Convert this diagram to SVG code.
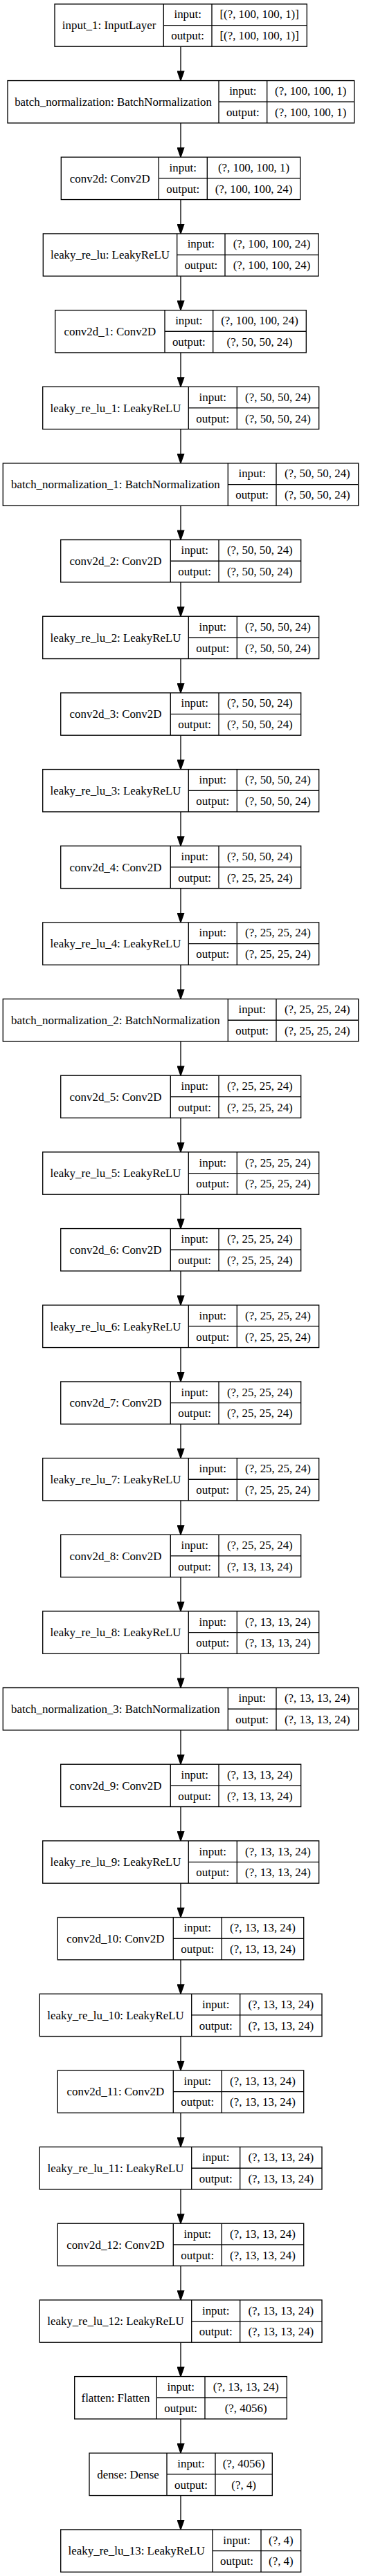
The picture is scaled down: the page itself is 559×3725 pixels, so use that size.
<svg xmlns="http://www.w3.org/2000/svg" xmlns:xlink="http://www.w3.org/1999/xlink" width="559" height="3725" viewBox="0 0 559 3725">
<style>
.f rect{fill:#fff;stroke:#000;stroke-width:1.33}
.f path{fill:none;stroke:#000;stroke-width:1.33}
text{font-family:"Liberation Serif","Times New Roman",serif;font-size:16.9px;text-anchor:middle;fill:#000}
.e path{fill:none;stroke:#000;stroke-width:1.33;marker-end:url(#ah)}
</style>
<defs>
<marker id="ah" markerUnits="userSpaceOnUse" markerWidth="16" markerHeight="12" refX="13.33" refY="5.67" orient="auto" viewBox="-1 -1 16 12"><path d="M0,1 L13.33,5.67 L0,10.33 Z" fill="#000" stroke="#000" stroke-width="1.33"/></marker>
<g id="fA" class="f"><rect x="79" y="0" width="364.3" height="61.33"/><path d="M236.3 0V61.33M306 0V61.33M236.3 30.67H443.3"/></g>
<g id="fB" class="f"><rect x="11" y="0" width="500.7" height="61.33"/><path d="M316 0V61.33M385.7 0V61.33M316 30.67H511.7"/></g>
<g id="fC" class="f"><rect x="88.3" y="0" width="345.4" height="61.33"/><path d="M229.3 0V61.33M299.3 0V61.33M229.3 30.67H433.7"/></g>
<g id="fD" class="f"><rect x="62.3" y="0" width="397.7" height="61.33"/><path d="M255.7 0V61.33M325 0V61.33M255.7 30.67H460"/></g>
<g id="fE" class="f"><rect x="79.7" y="0" width="362.6" height="61.33"/><path d="M238 0V61.33M307.7 0V61.33M238 30.67H442.3"/></g>
<g id="fF" class="f"><rect x="61.7" y="0" width="399" height="61.33"/><path d="M272.3 0V61.33M342.3 0V61.33M272.3 30.67H460.7"/></g>
<g id="fG" class="f"><rect x="4.3" y="0" width="513.4" height="61.33"/><path d="M329.3 0V61.33M399 0V61.33M329.3 30.67H517.7"/></g>
<g id="fH" class="f"><rect x="87.7" y="0" width="347" height="61.33"/><path d="M246.3 0V61.33M316 0V61.33M246.3 30.67H434.7"/></g>
<g id="fI" class="f"><rect x="83.3" y="0" width="355.4" height="61.33"/><path d="M250.3 0V61.33M320.3 0V61.33M250.3 30.67H438.7"/></g>
<g id="fJ" class="f"><rect x="57.3" y="0" width="407.7" height="61.33"/><path d="M276.7 0V61.33M346.7 0V61.33M276.7 30.67H465"/></g>
<g id="fK" class="f"><rect x="107.7" y="0" width="306.6" height="61.33"/><path d="M226.3 0V61.33M296 0V61.33M226.3 30.67H414.3"/></g>
<g id="fL" class="f"><rect x="129" y="0" width="264.3" height="61.33"/><path d="M241 0V61.33M311 0V61.33M241 30.67H393.3"/></g>
<g id="fM" class="f"><rect x="87.7" y="0" width="347" height="61.33"/><path d="M307 0V61.33M377 0V61.33M307 30.67H434.7"/></g>
</defs>
<rect x="0" y="0" width="559" height="3725" fill="#fff"/>

<g id="edges" class="e">
<path d="M261 67.23V116.57"/>
<path d="M261 177.9V227.23"/>
<path d="M261 288.56V337.9"/>
<path d="M261 399.23V448.57"/>
<path d="M261 509.9V559.24"/>
<path d="M261 620.57V669.9"/>
<path d="M261 731.23V780.57"/>
<path d="M261 841.9V891.24"/>
<path d="M261 952.57V1001.9"/>
<path d="M261 1063.23V1112.57"/>
<path d="M261 1173.9V1223.24"/>
<path d="M261 1284.57V1333.9"/>
<path d="M261 1395.23V1444.57"/>
<path d="M261 1505.9V1555.24"/>
<path d="M261 1616.57V1665.91"/>
<path d="M261 1727.24V1776.57"/>
<path d="M261 1837.9V1887.24"/>
<path d="M261 1948.57V1997.91"/>
<path d="M261 2059.24V2108.57"/>
<path d="M261 2169.9V2219.24"/>
<path d="M261 2280.57V2329.91"/>
<path d="M261 2391.24V2440.57"/>
<path d="M261 2501.9V2551.24"/>
<path d="M261 2612.57V2661.91"/>
<path d="M261 2723.24V2772.58"/>
<path d="M261 2833.91V2883.24"/>
<path d="M261 2944.57V2993.91"/>
<path d="M261 3055.24V3104.58"/>
<path d="M261 3165.91V3215.24"/>
<path d="M261 3276.57V3325.91"/>
<path d="M261 3387.24V3436.58"/>
<path d="M261 3497.91V3547.24"/>
<path d="M261 3608.57V3657.91"/>
</g>

<g id="input_1" transform="translate(0,5.9)"><use xlink:href="#fA"/><text x="157.65" y="36.5">input_1: InputLayer</text><text x="271.15" y="20.6">input:</text><text x="271.15" y="51.3">output:</text><text x="374.65" y="20.6">[(?, 100, 100, 1)]</text><text x="374.65" y="51.3">[(?, 100, 100, 1)]</text></g>
<g id="batch_normalization" transform="translate(0,116.57)"><use xlink:href="#fB"/><text x="163.5" y="36.5">batch_normalization: BatchNormalization</text><text x="350.85" y="20.6">input:</text><text x="350.85" y="51.3">output:</text><text x="448.7" y="20.6">(?, 100, 100, 1)</text><text x="448.7" y="51.3">(?, 100, 100, 1)</text></g>
<g id="conv2d" transform="translate(0,227.23)"><use xlink:href="#fC"/><text x="158.8" y="36.5">conv2d: Conv2D</text><text x="264.3" y="20.6">input:</text><text x="264.3" y="51.3">output:</text><text x="366.5" y="20.6">(?, 100, 100, 1)</text><text x="366.5" y="51.3">(?, 100, 100, 24)</text></g>
<g id="leaky_re_lu" transform="translate(0,337.9)"><use xlink:href="#fD"/><text x="159" y="36.5">leaky_re_lu: LeakyReLU</text><text x="290.35" y="20.6">input:</text><text x="290.35" y="51.3">output:</text><text x="392.5" y="20.6">(?, 100, 100, 24)</text><text x="392.5" y="51.3">(?, 100, 100, 24)</text></g>
<g id="conv2d_1" transform="translate(0,448.57)"><use xlink:href="#fE"/><text x="158.85" y="36.5">conv2d_1: Conv2D</text><text x="272.85" y="20.6">input:</text><text x="272.85" y="51.3">output:</text><text x="375" y="20.6">(?, 100, 100, 24)</text><text x="375" y="51.3">(?, 50, 50, 24)</text></g>
<g id="leaky_re_lu_1" transform="translate(0,559.24)"><use xlink:href="#fF"/><text x="167" y="36.5">leaky_re_lu_1: LeakyReLU</text><text x="307.3" y="20.6">input:</text><text x="307.3" y="51.3">output:</text><text x="401.5" y="20.6">(?, 50, 50, 24)</text><text x="401.5" y="51.3">(?, 50, 50, 24)</text></g>
<g id="batch_normalization_1" transform="translate(0,669.9)"><use xlink:href="#fG"/><text x="166.8" y="36.5">batch_normalization_1: BatchNormalization</text><text x="364.15" y="20.6">input:</text><text x="364.15" y="51.3">output:</text><text x="458.35" y="20.6">(?, 50, 50, 24)</text><text x="458.35" y="51.3">(?, 50, 50, 24)</text></g>
<g id="conv2d_2" transform="translate(0,780.57)"><use xlink:href="#fH"/><text x="167" y="36.5">conv2d_2: Conv2D</text><text x="281.15" y="20.6">input:</text><text x="281.15" y="51.3">output:</text><text x="375.35" y="20.6">(?, 50, 50, 24)</text><text x="375.35" y="51.3">(?, 50, 50, 24)</text></g>
<g id="leaky_re_lu_2" transform="translate(0,891.24)"><use xlink:href="#fF"/><text x="167" y="36.5">leaky_re_lu_2: LeakyReLU</text><text x="307.3" y="20.6">input:</text><text x="307.3" y="51.3">output:</text><text x="401.5" y="20.6">(?, 50, 50, 24)</text><text x="401.5" y="51.3">(?, 50, 50, 24)</text></g>
<g id="conv2d_3" transform="translate(0,1001.9)"><use xlink:href="#fH"/><text x="167" y="36.5">conv2d_3: Conv2D</text><text x="281.15" y="20.6">input:</text><text x="281.15" y="51.3">output:</text><text x="375.35" y="20.6">(?, 50, 50, 24)</text><text x="375.35" y="51.3">(?, 50, 50, 24)</text></g>
<g id="leaky_re_lu_3" transform="translate(0,1112.57)"><use xlink:href="#fF"/><text x="167" y="36.5">leaky_re_lu_3: LeakyReLU</text><text x="307.3" y="20.6">input:</text><text x="307.3" y="51.3">output:</text><text x="401.5" y="20.6">(?, 50, 50, 24)</text><text x="401.5" y="51.3">(?, 50, 50, 24)</text></g>
<g id="conv2d_4" transform="translate(0,1223.24)"><use xlink:href="#fH"/><text x="167" y="36.5">conv2d_4: Conv2D</text><text x="281.15" y="20.6">input:</text><text x="281.15" y="51.3">output:</text><text x="375.35" y="20.6">(?, 50, 50, 24)</text><text x="375.35" y="51.3">(?, 25, 25, 24)</text></g>
<g id="leaky_re_lu_4" transform="translate(0,1333.9)"><use xlink:href="#fF"/><text x="167" y="36.5">leaky_re_lu_4: LeakyReLU</text><text x="307.3" y="20.6">input:</text><text x="307.3" y="51.3">output:</text><text x="401.5" y="20.6">(?, 25, 25, 24)</text><text x="401.5" y="51.3">(?, 25, 25, 24)</text></g>
<g id="batch_normalization_2" transform="translate(0,1444.57)"><use xlink:href="#fG"/><text x="166.8" y="36.5">batch_normalization_2: BatchNormalization</text><text x="364.15" y="20.6">input:</text><text x="364.15" y="51.3">output:</text><text x="458.35" y="20.6">(?, 25, 25, 24)</text><text x="458.35" y="51.3">(?, 25, 25, 24)</text></g>
<g id="conv2d_5" transform="translate(0,1555.24)"><use xlink:href="#fH"/><text x="167" y="36.5">conv2d_5: Conv2D</text><text x="281.15" y="20.6">input:</text><text x="281.15" y="51.3">output:</text><text x="375.35" y="20.6">(?, 25, 25, 24)</text><text x="375.35" y="51.3">(?, 25, 25, 24)</text></g>
<g id="leaky_re_lu_5" transform="translate(0,1665.91)"><use xlink:href="#fF"/><text x="167" y="36.5">leaky_re_lu_5: LeakyReLU</text><text x="307.3" y="20.6">input:</text><text x="307.3" y="51.3">output:</text><text x="401.5" y="20.6">(?, 25, 25, 24)</text><text x="401.5" y="51.3">(?, 25, 25, 24)</text></g>
<g id="conv2d_6" transform="translate(0,1776.57)"><use xlink:href="#fH"/><text x="167" y="36.5">conv2d_6: Conv2D</text><text x="281.15" y="20.6">input:</text><text x="281.15" y="51.3">output:</text><text x="375.35" y="20.6">(?, 25, 25, 24)</text><text x="375.35" y="51.3">(?, 25, 25, 24)</text></g>
<g id="leaky_re_lu_6" transform="translate(0,1887.24)"><use xlink:href="#fF"/><text x="167" y="36.5">leaky_re_lu_6: LeakyReLU</text><text x="307.3" y="20.6">input:</text><text x="307.3" y="51.3">output:</text><text x="401.5" y="20.6">(?, 25, 25, 24)</text><text x="401.5" y="51.3">(?, 25, 25, 24)</text></g>
<g id="conv2d_7" transform="translate(0,1997.91)"><use xlink:href="#fH"/><text x="167" y="36.5">conv2d_7: Conv2D</text><text x="281.15" y="20.6">input:</text><text x="281.15" y="51.3">output:</text><text x="375.35" y="20.6">(?, 25, 25, 24)</text><text x="375.35" y="51.3">(?, 25, 25, 24)</text></g>
<g id="leaky_re_lu_7" transform="translate(0,2108.57)"><use xlink:href="#fF"/><text x="167" y="36.5">leaky_re_lu_7: LeakyReLU</text><text x="307.3" y="20.6">input:</text><text x="307.3" y="51.3">output:</text><text x="401.5" y="20.6">(?, 25, 25, 24)</text><text x="401.5" y="51.3">(?, 25, 25, 24)</text></g>
<g id="conv2d_8" transform="translate(0,2219.24)"><use xlink:href="#fH"/><text x="167" y="36.5">conv2d_8: Conv2D</text><text x="281.15" y="20.6">input:</text><text x="281.15" y="51.3">output:</text><text x="375.35" y="20.6">(?, 25, 25, 24)</text><text x="375.35" y="51.3">(?, 13, 13, 24)</text></g>
<g id="leaky_re_lu_8" transform="translate(0,2329.91)"><use xlink:href="#fF"/><text x="167" y="36.5">leaky_re_lu_8: LeakyReLU</text><text x="307.3" y="20.6">input:</text><text x="307.3" y="51.3">output:</text><text x="401.5" y="20.6">(?, 13, 13, 24)</text><text x="401.5" y="51.3">(?, 13, 13, 24)</text></g>
<g id="batch_normalization_3" transform="translate(0,2440.57)"><use xlink:href="#fG"/><text x="166.8" y="36.5">batch_normalization_3: BatchNormalization</text><text x="364.15" y="20.6">input:</text><text x="364.15" y="51.3">output:</text><text x="458.35" y="20.6">(?, 13, 13, 24)</text><text x="458.35" y="51.3">(?, 13, 13, 24)</text></g>
<g id="conv2d_9" transform="translate(0,2551.24)"><use xlink:href="#fH"/><text x="167" y="36.5">conv2d_9: Conv2D</text><text x="281.15" y="20.6">input:</text><text x="281.15" y="51.3">output:</text><text x="375.35" y="20.6">(?, 13, 13, 24)</text><text x="375.35" y="51.3">(?, 13, 13, 24)</text></g>
<g id="leaky_re_lu_9" transform="translate(0,2661.91)"><use xlink:href="#fF"/><text x="167" y="36.5">leaky_re_lu_9: LeakyReLU</text><text x="307.3" y="20.6">input:</text><text x="307.3" y="51.3">output:</text><text x="401.5" y="20.6">(?, 13, 13, 24)</text><text x="401.5" y="51.3">(?, 13, 13, 24)</text></g>
<g id="conv2d_10" transform="translate(0,2772.58)"><use xlink:href="#fI"/><text x="166.8" y="36.5">conv2d_10: Conv2D</text><text x="285.3" y="20.6">input:</text><text x="285.3" y="51.3">output:</text><text x="379.5" y="20.6">(?, 13, 13, 24)</text><text x="379.5" y="51.3">(?, 13, 13, 24)</text></g>
<g id="leaky_re_lu_10" transform="translate(0,2883.24)"><use xlink:href="#fJ"/><text x="167" y="36.5">leaky_re_lu_10: LeakyReLU</text><text x="311.7" y="20.6">input:</text><text x="311.7" y="51.3">output:</text><text x="405.85" y="20.6">(?, 13, 13, 24)</text><text x="405.85" y="51.3">(?, 13, 13, 24)</text></g>
<g id="conv2d_11" transform="translate(0,2993.91)"><use xlink:href="#fI"/><text x="166.8" y="36.5">conv2d_11: Conv2D</text><text x="285.3" y="20.6">input:</text><text x="285.3" y="51.3">output:</text><text x="379.5" y="20.6">(?, 13, 13, 24)</text><text x="379.5" y="51.3">(?, 13, 13, 24)</text></g>
<g id="leaky_re_lu_11" transform="translate(0,3104.58)"><use xlink:href="#fJ"/><text x="167" y="36.5">leaky_re_lu_11: LeakyReLU</text><text x="311.7" y="20.6">input:</text><text x="311.7" y="51.3">output:</text><text x="405.85" y="20.6">(?, 13, 13, 24)</text><text x="405.85" y="51.3">(?, 13, 13, 24)</text></g>
<g id="conv2d_12" transform="translate(0,3215.24)"><use xlink:href="#fI"/><text x="166.8" y="36.5">conv2d_12: Conv2D</text><text x="285.3" y="20.6">input:</text><text x="285.3" y="51.3">output:</text><text x="379.5" y="20.6">(?, 13, 13, 24)</text><text x="379.5" y="51.3">(?, 13, 13, 24)</text></g>
<g id="leaky_re_lu_12" transform="translate(0,3325.91)"><use xlink:href="#fJ"/><text x="167" y="36.5">leaky_re_lu_12: LeakyReLU</text><text x="311.7" y="20.6">input:</text><text x="311.7" y="51.3">output:</text><text x="405.85" y="20.6">(?, 13, 13, 24)</text><text x="405.85" y="51.3">(?, 13, 13, 24)</text></g>
<g id="flatten" transform="translate(0,3436.58)"><use xlink:href="#fK"/><text x="167" y="36.5">flatten: Flatten</text><text x="261.15" y="20.6">input:</text><text x="261.15" y="51.3">output:</text><text x="355.15" y="20.6">(?, 13, 13, 24)</text><text x="355.15" y="51.3">(?, 4056)</text></g>
<g id="dense" transform="translate(0,3547.24)"><use xlink:href="#fL"/><text x="185" y="36.5">dense: Dense</text><text x="276" y="20.6">input:</text><text x="276" y="51.3">output:</text><text x="352.15" y="20.6">(?, 4056)</text><text x="352.15" y="51.3">(?, 4)</text></g>
<g id="leaky_re_lu_13" transform="translate(0,3657.91)"><use xlink:href="#fM"/><text x="197.35" y="36.5">leaky_re_lu_13: LeakyReLU</text><text x="342" y="20.6">input:</text><text x="342" y="51.3">output:</text><text x="405.85" y="20.6">(?, 4)</text><text x="405.85" y="51.3">(?, 4)</text></g>
</svg>
